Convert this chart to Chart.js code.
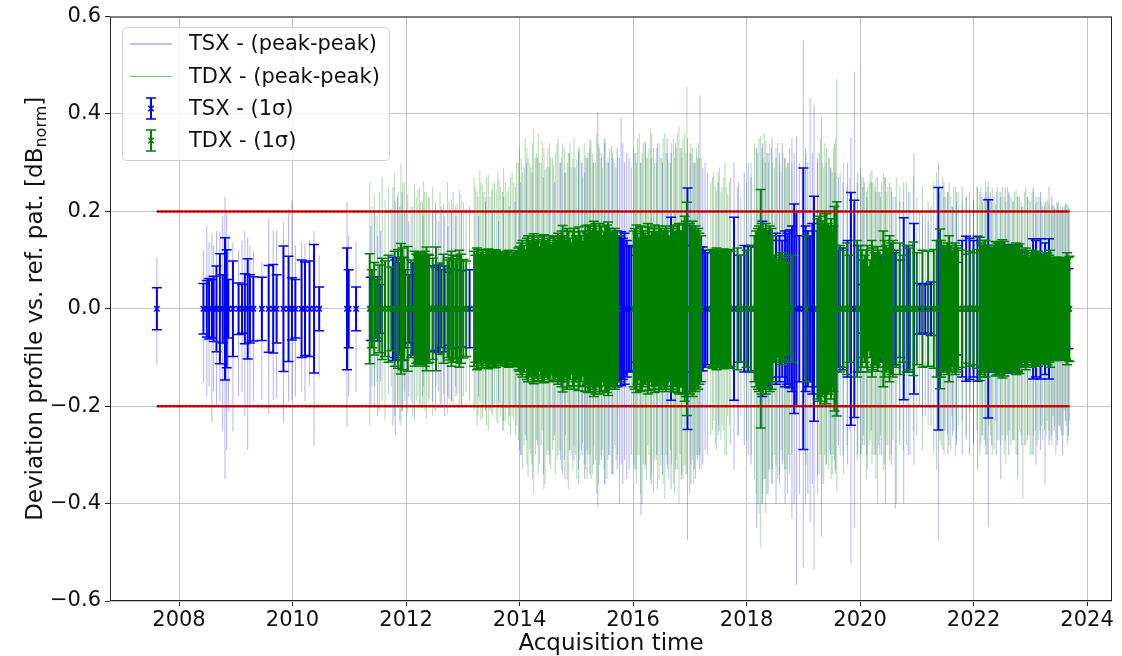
<!DOCTYPE html>
<html>
<head>
<meta charset="utf-8">
<script src="https://cdn.jsdelivr.net/npm/chart.js@4.4.1/dist/chart.umd.min.js"></script>
<style>
  html, body { margin: 0; padding: 0; background: #fff; }
  #wrap { width: 1122px; height: 656px; }
</style>
</head>
<body>
<div id="wrap"><canvas id="chart"></canvas></div>
<script>
const xTicks = [2008, 2010, 2012, 2014, 2016, 2018, 2020, 2022, 2024];
const yTicks = [-0.6, -0.4, -0.2, 0, 0.2, 0.4, 0.6];
const limits = [0.2, -0.2];
const legendLabels = ['TSX - (peak-peak)', 'TDX - (peak-peak)', 'TSX - (1σ)', 'TDX - (1σ)'];

// TerraSAR-X acquisitions: time (year), 1 sigma, peak-peak max / min
const tsxTime = [
  2007.61, 2008.43, 2008.49, 2008.53, 2008.58, 2008.61, 2008.66, 2008.72, 2008.77, 2008.81,
  2008.84, 2008.87, 2008.95, 2009.05, 2009.11, 2009.16, 2009.21, 2009.25, 2009.31, 2009.46,
  2009.58, 2009.66, 2009.72, 2009.84, 2009.93, 2009.99, 2010.05, 2010.16, 2010.22, 2010.30,
  2010.38, 2010.47, 2010.96, 2010.99, 2011.12,
  2011.38, 2011.45, 2011.50, 2011.55, 2011.77, 2011.81, 2011.85, 2011.89, 2011.93, 2011.98,
  2012.05, 2012.12, 2012.30, 2012.47, 2012.52, 2012.57, 2012.62, 2012.68, 2012.74, 2012.80,
  2012.88, 2012.98, 2013.12, 2013.28, 2013.40, 2013.52, 2013.63, 2013.72, 2013.82, 2013.92,
  2014.02, 2014.12, 2014.22, 2014.32, 2014.42, 2014.52, 2014.62, 2014.72, 2014.80, 2014.88,
  2014.96, 2015.04, 2015.10, 2015.15, 2015.19, 2015.24, 2015.30, 2015.38, 2015.44, 2015.50,
  2015.57, 2015.64, 2015.72, 2015.76, 2015.79, 2015.82, 2015.85, 2015.89, 2015.93, 2015.97,
  2016.05, 2016.14, 2016.22, 2016.32, 2016.42, 2016.52, 2016.60, 2016.67, 2016.75, 2016.85,
  2016.96, 2017.02, 2017.08, 2017.14, 2017.18, 2017.23, 2017.27, 2017.31, 2017.50, 2017.78,
  2017.86, 2017.96, 2018.03, 2018.08, 2018.18, 2018.28, 2018.33, 2018.38, 2018.45, 2018.52,
  2018.58, 2018.63, 2018.68, 2018.72, 2018.76, 2018.80, 2018.84, 2018.88, 2018.93, 2019.00,
  2019.04, 2019.08, 2019.12, 2019.16, 2019.19, 2019.25, 2019.32, 2019.40, 2019.48, 2019.56,
  2019.62, 2019.70, 2019.78, 2019.84, 2019.90, 2019.96, 2020.05, 2020.12, 2020.20, 2020.28,
  2020.35, 2020.45, 2020.55, 2020.62, 2020.70, 2020.77, 2020.85, 2020.95, 2021.05, 2021.10,
  2021.15, 2021.20, 2021.25, 2021.38, 2021.48, 2021.55, 2021.63, 2021.70, 2021.80, 2021.87,
  2021.93, 2022.00, 2022.07, 2022.15, 2022.22, 2022.26, 2022.32, 2022.40, 2022.48, 2022.56,
  2022.62, 2022.70, 2022.78, 2022.85, 2022.95, 2023.05, 2023.10, 2023.18, 2023.26, 2023.33,
  2023.38, 2023.42, 2023.47, 2023.52, 2023.57, 2023.62, 2023.67
];
const tsxSigma = [
  .043, .052, .058, .062, .060, .067, .088, .113, .070, .146,
  .121, .060, .098, .053, .050, .072, .103, .070, .066, .065,
  .089, .091, .070, .129, .108, .064, .060, .100, .096, .098,
  .132, .045, .125, .080, .045,
  .065, .060, .066, .050, .106, .100, .104, .095, .106, .080,
  .070, .095, .085, .088, .085, .090, .080, .088, .075, .082,
  .080, .078, .080, .052, .075, .080, .070, .096, .085, .080,
  .090, .095, .085, .100, .090, .095, .088, .100, .120, .110,
  .110, .127, .127, .125, .120, .150, .158, .140, .150, .145,
  .140, .158, .160, .150, .158, .145, .155, .140, .130, .127,
  .110, .120, .100, .130, .115, .125, .140, .188, .130, .150,
  .248, .130, .127, .120, .127, .127, .120, .115, .100, .188,
  .110, .130, .128, .130, .127, .180, .150, .160, .140, .155,
  .150, .140, .160, .155, .162, .170, .215, .200, .150, .289,
  .170, .160, .150, .175, .231, .160, .180, .150, .140, .130,
  .120, .125, .140, .239, .223, .130, .050, .045, .060, .048,
  .110, .120, .120, .115, .100, .187, .130, .175, .052, .050,
  .052, .050, .055, .249, .103, .100, .103, .095, .140, .149,
  .145, .140, .149, .120, .130, .224, .125, .130, .130, .128,
  .132, .130, .128, .120, .115, .144, .140, .144, .135, .144,
  .100, .082, .085, .080, .082, .078, .082
];
const tsxHigh = [
  .105, .120, .170, .137, .154, .130, .160, .158, .190, .230,
  .200, .150, .137, .120, .140, .160, .147, .130, .120, .096,
  .185, .161, .161, .178, .205, .222, .130, .137, .134, .140,
  .160, .110, .219, .150, .137,
  .170, .200, .150, .160, .250, .220, .230, .210, .240, .200,
  .180, .210, .190, .200, .220, .180, .210, .190, .170, .200,
  .190, .200, .210, .190, .220, .200, .180, .230, .210, .220,
  .260, .300, .280, .310, .270, .290, .260, .300, .280, .320,
  .290, .320, .300, .280, .310, .330, .300, .404, .320, .340,
  .300, .320, .330, .310, .394, .340, .300, .320, .310, .290,
  .320, .300, .340, .310, .330, .300, .350, .320, .340, .330,
  .350, .320, .300, .310, .438, .290, .300, .280, .260, .300,
  .260, .280, .300, .270, .330, .340, .300, .320, .350, .310,
  .320, .340, .310, .300, .330, .350, .320, .354, .300, .551,
  .330, .300, .432, .320, .419, .310, .395, .300, .290, .280,
  .270, .260, .300, .352, .486, .280, .250, .230, .260, .240,
  .240, .270, .250, .230, .220, .260, .240, .320, .200, .190,
  .200, .180, .210, .300, .230, .240, .210, .220, .250, .230,
  .240, .220, .250, .230, .240, .260, .220, .240, .230, .250,
  .240, .220, .230, .210, .230, .250, .230, .240, .220, .250,
  .230, .210, .220, .200, .210, .215, .200
];
const tsxLow = [
  -.114, -.150, -.180, -.160, -.232, -.170, -.200, -.191, -.250, -.350,
  -.290, -.210, -.252, -.180, -.170, -.220, -.290, -.200, -.191, -.188,
  -.215, -.188, -.185, -.232, -.191, -.188, -.180, -.171, -.190, -.157,
  -.280, -.140, -.242, -.180, -.171,
  -.200, -.160, -.220, -.150, -.240, -.260, -.200, -.230, -.210, -.190,
  -.180, -.220, -.200, -.190, -.210, -.170, -.200, -.220, -.180, -.190,
  -.180, -.200, -.190, -.180, -.210, -.200, -.190, -.230, -.220, -.200,
  -.300, -.270, -.320, -.280, -.340, -.300, -.260, -.310, -.350, -.290,
  -.310, -.330, -.300, -.350, -.290, -.340, -.320, -.407, -.310, -.360,
  -.300, -.340, -.330, -.400, -.320, -.360, -.310, -.350, -.330, -.300,
  -.330, -.424, -.320, -.360, -.300, -.340, -.320, -.370, -.330, -.350,
  -.475, -.360, -.330, -.310, -.300, -.320, -.290, -.300, -.260, -.330,
  -.260, -.280, -.300, -.320, -.450, -.400, -.350, -.380, -.330, -.400,
  -.360, -.320, -.400, -.380, -.340, -.430, -.400, -.567, -.380, -.531,
  -.400, -.380, -.440, -.360, -.535, -.340, -.468, -.320, -.300, -.330,
  -.280, -.300, -.320, -.523, -.450, -.300, -.280, -.300, -.250, -.300,
  -.300, -.400, -.320, -.410, -.280, -.400, -.300, -.320, -.200, -.220,
  -.220, -.200, -.240, -.475, -.250, -.300, -.260, -.280, -.300, -.270,
  -.300, -.280, -.330, -.260, -.300, -.447, -.280, -.300, -.350, -.270,
  -.300, -.270, -.350, -.280, -.260, -.300, -.320, -.290, -.360, -.280,
  -.260, -.250, -.280, -.240, -.300, -.230, -.260
];

// TanDEM-X acquisitions (later blocks: acquisitions in between the first pass)
const tdxTime = [
  2011.36, 2011.40, 2011.44, 2011.49, 2011.53, 2011.58, 2011.63, 2011.69, 2011.74, 2011.80,
  2011.86, 2011.91, 2011.97, 2012.03, 2012.09, 2012.15, 2012.21, 2012.26, 2012.31, 2012.36,
  2012.41, 2012.47, 2012.53, 2012.60, 2012.66, 2012.73, 2012.80, 2012.87, 2012.94, 2013.01,
  2013.06, 2013.20, 2013.25, 2013.30, 2013.35, 2013.40, 2013.45, 2013.51, 2013.56, 2013.62,
  2013.67, 2013.72, 2013.78, 2013.84, 2013.90, 2013.95, 2014.00, 2014.05, 2014.10, 2014.15,
  2014.20, 2014.25, 2014.30, 2014.35, 2014.40, 2014.45, 2014.50, 2014.55, 2014.60, 2014.66,
  2014.71, 2014.76, 2014.81, 2014.86, 2014.91, 2014.96, 2015.01, 2015.06, 2015.11, 2015.16,
  2015.21, 2015.26, 2015.31, 2015.36, 2015.41, 2015.46, 2015.51, 2015.56, 2015.62, 2015.68,
  2015.73, 2016.01, 2016.06, 2016.11, 2016.16, 2016.21, 2016.26, 2016.31, 2016.36, 2016.41,
  2016.46, 2016.51, 2016.56, 2016.61, 2016.66, 2016.71, 2016.76, 2016.81, 2016.86, 2016.91,
  2016.95, 2017.00, 2017.05, 2017.10, 2017.15, 2017.20, 2017.37, 2017.42, 2017.47, 2017.52,
  2017.57, 2017.62, 2017.67, 2017.72, 2017.84, 2017.90, 2018.00, 2018.08, 2018.14, 2018.20,
  2018.25, 2018.29, 2018.34, 2018.39, 2018.44, 2018.49, 2018.55, 2018.61, 2018.67, 2018.74,
  2018.80, 2019.05, 2019.25, 2019.30, 2019.36, 2019.41, 2019.46, 2019.51, 2019.55, 2019.59,
  2019.65, 2019.71, 2019.77, 2019.82, 2019.95, 2020.01, 2020.06, 2020.11, 2020.16, 2020.21,
  2020.26, 2020.31, 2020.36, 2020.41, 2020.46, 2020.52, 2020.58, 2020.64, 2020.70, 2020.76,
  2020.82, 2020.88, 2020.94, 2021.00, 2021.10, 2021.20, 2021.30, 2021.35, 2021.41, 2021.46,
  2021.51, 2021.57, 2021.62, 2021.68, 2021.73, 2021.80, 2021.87, 2021.94, 2022.00, 2022.06,
  2022.11, 2022.16, 2022.21, 2022.27, 2022.33, 2022.39, 2022.45, 2022.51, 2022.57, 2022.63,
  2022.69, 2022.75, 2022.81, 2022.87, 2022.92, 2022.98, 2023.03, 2023.09, 2023.14, 2023.20,
  2023.25, 2023.30, 2023.35, 2023.40, 2023.45, 2023.50, 2023.55, 2023.60, 2023.65, 2023.69,
  2013.22, 2013.27, 2013.32, 2013.37, 2013.42, 2013.48, 2013.53, 2013.59, 2013.64, 2013.70,
  2013.75, 2013.81, 2013.87, 2013.93, 2013.98, 2014.03, 2014.08, 2014.13, 2014.18, 2014.23,
  2014.28, 2014.33, 2014.38, 2014.43, 2014.48, 2014.53, 2014.58, 2014.63, 2014.68, 2014.74,
  2014.79, 2014.84, 2014.89, 2014.94, 2014.99, 2015.04, 2015.09, 2015.14, 2015.19, 2015.24,
  2015.29, 2015.34, 2015.39, 2015.44, 2015.49, 2015.54, 2015.59, 2015.65, 2015.70, 2016.03,
  2016.08, 2016.13, 2016.18, 2016.24, 2016.28, 2016.33, 2016.38, 2016.43, 2016.49, 2016.53,
  2016.58, 2016.63, 2016.68, 2016.73, 2016.78, 2016.83, 2016.88, 2016.93, 2017.02, 2017.07,
  2017.12, 2017.17, 2017.40, 2017.45, 2017.50, 2017.55, 2017.60, 2017.65, 2017.70, 2018.17,
  2018.22, 2018.27, 2018.31, 2018.36, 2018.41, 2018.46, 2018.52, 2018.58, 2018.64, 2018.70,
  2019.28, 2019.33, 2019.38, 2019.44, 2019.49, 2019.53, 2019.57, 2020.03, 2020.08, 2020.13,
  2020.18, 2020.23, 2020.28, 2020.33, 2020.38, 2020.43, 2020.49, 2020.55, 2021.43, 2021.48,
  2021.54, 2021.60, 2021.65, 2021.70, 2022.13, 2022.19, 2022.24, 2022.30, 2022.36, 2022.42,
  2022.48, 2022.54, 2022.60, 2022.66, 2022.72, 2022.78, 2022.84, 2022.90, 2022.95, 2023.00,
  2023.06, 2023.12, 2023.17, 2023.22, 2023.28, 2023.33, 2023.38, 2023.43, 2023.48, 2023.53,
  2023.58, 2023.63, 2023.67,
  2012.18, 2012.24, 2012.29, 2012.33, 2012.39, 2012.76, 2012.83, 2012.90, 2012.97, 2011.94
];
const tdxSigma = [
  .113, .080, .095, .060, .090, .104, .098, .110, .086, .118,
  .122, .134, .105, .128, .100, .118, .110, .112, .109, .127,
  .110, .104, .127, .094, .112, .100, .118, .103, .120, .101,
  .098, .118, .125, .112, .120, .108, .123, .115, .121, .110,
  .116, .112, .118, .108, .115, .119, .128, .140, .122, .150,
  .135, .154, .142, .128, .150, .138, .145, .132, .148, .140,
  .150, .171, .140, .160, .135, .165, .145, .158, .138, .170,
  .172, .160, .180, .155, .175, .150, .168, .178, .158, .165,
  .150, .160, .172, .145, .168, .155, .175, .150, .165, .158,
  .170, .150, .165, .160, .145, .170, .158, .175, .160, .190,
  .219, .175, .180, .170, .165, .150, .120, .118, .125, .112,
  .120, .115, .122, .118, .125, .110, .120, .130, .150, .165,
  .245, .160, .175, .150, .165, .110, .100, .115, .105, .095,
  .110, .150, .185, .200, .175, .195, .170, .160, .210, .220,
  .130, .120, .135, .110, .140, .130, .100, .120, .086, .140,
  .115, .128, .100, .160, .130, .150, .140, .120, .135, .110,
  .130, .125, .137, .115, .120, .118, .122, .140, .164, .130,
  .127, .150, .118, .135, .125, .120, .112, .118, .115, .122,
  .147, .130, .140, .125, .120, .138, .135, .142, .128, .130,
  .125, .135, .133, .110, .125, .106, .120, .112, .118, .105,
  .110, .115, .120, .100, .106, .102, .104, .100, .115, .108,
  .110, .122, .116, .110, .121, .112, .118, .120, .113, .117,
  .114, .120, .112, .116, .125, .135, .130, .145, .140, .150,
  .138, .147, .135, .152, .140, .150, .136, .145, .155, .160,
  .150, .165, .145, .158, .150, .168, .150, .160, .155, .170,
  .165, .175, .160, .170, .158, .172, .165, .155, .160, .165,
  .155, .170, .160, .150, .168, .158, .172, .155, .165, .160,
  .170, .150, .165, .158, .172, .160, .175, .180, .170, .165,
  .160, .155, .122, .115, .120, .118, .123, .116, .120, .160,
  .170, .175, .165, .160, .170, .150, .105, .100, .110, .095,
  .190, .180, .200, .175, .185, .170, .200, .120, .110, .130,
  .100, .125, .115, .120, .110, .140, .125, .135, .140, .125,
  .135, .130, .125, .130, .135, .140, .130, .125, .130, .135,
  .130, .138, .125, .130, .128, .130, .120, .118, .115, .110,
  .115, .110, .112, .108, .112, .110, .105, .104, .106, .102,
  .105, .103, .106,
  .112, .115, .110, .118, .112, .105, .110, .108, .112, .125
];
const tdxHigh = [
  .260, .210, .235, .190, .240, .270, .225, .250, .205, .280,
  .240, .298, .260, .235, .210, .255, .245, .220, .262, .240,
  .230, .250, .205, .240, .215, .260, .225, .210, .245, .220,
  .205, .270, .240, .285, .255, .230, .275, .245, .260, .280,
  .250, .290, .240, .270, .260, .300, .330, .280, .350, .310,
  .290, .370, .320, .300, .345, .285, .330, .310, .295, .340,
  .300, .340, .280, .320, .290, .350, .305, .330, .270, .315,
  .320, .345, .300, .360, .330, .290, .350, .310, .335, .300,
  .310, .330, .300, .360, .320, .345, .310, .370, .330, .300,
  .340, .310, .360, .320, .300, .350, .330, .375, .310, .360,
  .455, .320, .330, .300, .340, .310, .260, .280, .240, .290,
  .250, .300, .235, .270, .250, .230, .260, .300, .340, .320,
  .355, .310, .345, .300, .330, .290, .340, .280, .310, .300,
  .300, .320, .300, .350, .290, .330, .310, .280, .340, .473,
  .280, .300, .250, .270, .260, .290, .270, .240, .260, .285,
  .250, .270, .230, .280, .240, .260, .230, .270, .250, .220,
  .260, .240, .270, .230, .250, .220, .260, .280, .240, .270,
  .230, .260, .210, .250, .240, .220, .230, .200, .225, .250,
  .240, .220, .260, .230, .250, .215, .240, .250, .220, .235,
  .220, .245, .230, .210, .250, .225, .240, .215, .230, .220,
  .210, .225, .200, .215, .205, .220, .200, .210, .215, .205,
  .250, .230, .260, .240, .270, .230, .255, .245, .265, .240,
  .260, .250, .280, .250, .300, .310, .290, .330, .300, .340,
  .310, .360, .300, .330, .290, .340, .310, .320, .350, .310,
  .330, .300, .340, .310, .290, .330, .300, .340, .310, .350,
  .320, .300, .340, .310, .350, .300, .330, .310, .290, .320,
  .350, .300, .340, .310, .330, .360, .300, .340, .310, .350,
  .320, .300, .340, .310, .360, .330, .350, .320, .340, .300,
  .330, .310, .270, .250, .280, .240, .270, .250, .260, .330,
  .350, .330, .360, .320, .340, .300, .330, .300, .320, .290,
  .320, .300, .340, .310, .290, .330, .350, .270, .260, .250,
  .280, .260, .270, .240, .260, .270, .250, .240, .250, .260,
  .240, .230, .250, .240, .250, .230, .250, .240, .230, .250,
  .240, .230, .250, .230, .240, .230, .220, .240, .230, .220,
  .240, .220, .230, .210, .220, .215, .210, .205, .215, .210,
  .200, .215, .210,
  .230, .250, .220, .240, .230, .220, .240, .215, .235, .260
];
const tdxLow = [
  -.240, -.160, -.200, -.150, -.210, -.190, -.230, -.175, -.160, -.220,
  -.195, -.240, -.170, -.215, -.190, -.230, -.180, -.205, -.160, -.225,
  -.185, -.220, -.160, -.205, -.175, -.215, -.190, -.160, -.205, -.180,
  -.170, -.210, -.240, -.190, -.225, -.205, -.250, -.215, -.195, -.235,
  -.220, -.250, -.205, -.260, -.230, -.240, -.290, -.330, -.260, -.345,
  -.300, -.380, -.270, -.320, -.250, -.360, -.290, -.330, -.270, -.310,
  -.290, -.340, -.260, -.370, -.300, -.280, -.350, -.310, -.275, -.330,
  -.300, -.350, -.280, -.380, -.320, -.290, -.360, -.310, -.340, -.280,
  -.300, -.320, -.360, -.300, -.400, -.330, -.280, -.350, -.380, -.310,
  -.350, -.300, -.390, -.330, -.290, -.360, -.310, -.400, -.340, -.320,
  -.340, -.380, -.310, -.350, -.300, -.330, -.260, -.230, -.290, -.250,
  -.240, -.300, -.220, -.280, -.260, -.220, -.270, -.300, -.350, -.400,
  -.490, -.380, -.420, -.330, -.360, -.300, -.350, -.290, -.330, -.300,
  -.300, -.320, -.380, -.300, -.360, -.320, -.290, -.340, -.310, -.375,
  -.300, -.340, -.280, -.250, -.310, -.300, -.260, -.350, -.280, -.320,
  -.300, -.400, -.260, -.330, -.280, -.310, -.270, -.400, -.250, -.290,
  -.280, -.300, -.250, -.260, -.290, -.240, -.300, -.330, -.270, -.290,
  -.250, -.280, -.220, -.300, -.240, -.230, -.260, -.210, -.270, -.250,
  -.300, -.260, -.280, -.240, -.300, -.230, -.270, -.260, -.320, -.250,
  -.270, -.300, -.250, -.390, -.280, -.260, -.300, -.250, -.270, -.240,
  -.250, -.230, -.270, -.220, -.300, -.240, -.260, -.210, -.280, -.230,
  -.200, -.220, -.230, -.200, -.240, -.210, -.220, -.230, -.200, -.250,
  -.230, -.240, -.220, -.260, -.270, -.300, -.280, -.320, -.290, -.350,
  -.300, -.340, -.280, -.370, -.300, -.320, -.290, -.340, -.300, -.330,
  -.310, -.350, -.290, -.330, -.300, -.360, -.290, -.320, -.350, -.300,
  -.340, -.310, -.360, -.300, -.330, -.350, -.300, -.340, -.310, -.330,
  -.300, -.380, -.320, -.350, -.300, -.340, -.310, -.370, -.320, -.360,
  -.300, -.350, -.320, -.380, -.330, -.300, -.350, -.340, -.320, -.360,
  -.300, -.330, -.250, -.280, -.240, -.270, -.250, -.300, -.240, -.380,
  -.420, -.400, -.350, -.380, -.330, -.360, -.320, -.340, -.310, -.330,
  -.340, -.360, -.300, -.330, -.350, -.300, -.340, -.300, -.280, -.330,
  -.270, -.300, -.350, -.280, -.300, -.320, -.280, -.300, -.280, -.300,
  -.260, -.290, -.250, -.270, -.280, -.270, -.300, -.260, -.290, -.270,
  -.280, -.300, -.260, -.280, -.270, -.300, -.260, -.280, -.270, -.300,
  -.260, -.280, -.250, -.270, -.260, -.250, -.280, -.240, -.270, -.250,
  -.260, -.240, -.270,
  -.190, -.200, -.180, -.210, -.195, -.185, -.200, -.175, -.195, -.210
];

const BLUE = '#0000ff', GREEN = '#008000';
const FONT = '"DejaVu Sans", sans-serif';

// vertical segments separated by gaps
function vLines(time, lo, hi) {
  const pts = [];
  time.forEach((t, i) => pts.push({x: t, y: lo[i]}, {x: t, y: hi[i]}, {x: t, y: null}));
  return pts;
}
function caps(time, sig) {
  const pts = [];
  time.forEach((t, i) => pts.push({x: t, y: sig[i]}, {x: t, y: -sig[i]}));
  return pts;
}
const zeros = time => time.map(t => ({x: t, y: 0}));

const tStart = Math.min(...tsxTime, ...tdxTime), tEnd = Math.max(...tsxTime, ...tdxTime);
const limitPts = [];
limits.forEach(v => limitPts.push({x: tStart, y: v}, {x: tEnd, y: v}, {x: tEnd, y: null}));

const lineDs = (data, color, width, order, dash) => ({
  type: 'line', data, borderColor: color, borderWidth: width, borderDash: dash || [],
  pointRadius: 0, pointHoverRadius: 0, fill: false, tension: 0, spanGaps: false, order
});
const markDs = (data, color, style, radius, width, order) => ({
  type: 'scatter', data, pointStyle: style, pointRadius: radius, pointHoverRadius: radius,
  borderColor: color, backgroundColor: color, pointBorderWidth: width, borderWidth: width, order
});

const datasets = [
  lineDs(limitPts, '#000000', 1, 0, [2, 2]),
  lineDs(limitPts, '#ff0000', 2.5, 1),
  markDs(zeros(tdxTime), GREEN, 'crossRot', 3.8, 1.5, 2),
  markDs(caps(tdxTime, tdxSigma), GREEN, 'line', 5, 1.5, 3),
  lineDs(vLines(tdxTime, tdxSigma.map(s => -s), tdxSigma), GREEN, 2, 4),
  markDs(zeros(tsxTime), BLUE, 'crossRot', 3.8, 1.5, 5),
  markDs(caps(tsxTime, tsxSigma), BLUE, 'line', 5, 1.5, 6),
  lineDs(vLines(tsxTime, tsxSigma.map(s => -s), tsxSigma), BLUE, 2, 7),
  lineDs(vLines(tdxTime, tdxLow, tdxHigh), 'rgba(0,128,0,0.3)', 1, 8),
  lineDs(vLines(tsxTime, tsxLow, tsxHigh), 'rgba(0,0,255,0.3)', 1, 9)
];

function drawErrGlyph(ctx, x, y, color) {
  ctx.strokeStyle = color;
  ctx.lineWidth = 2;
  ctx.beginPath(); ctx.moveTo(x, y - 10.5); ctx.lineTo(x, y + 10.5); ctx.stroke();
  ctx.lineWidth = 1.5;
  ctx.beginPath();
  ctx.moveTo(x - 5, y - 10.5); ctx.lineTo(x + 5, y - 10.5);
  ctx.moveTo(x - 5, y + 10.5); ctx.lineTo(x + 5, y + 10.5);
  ctx.moveTo(x - 2.7, y - 2.7); ctx.lineTo(x + 2.7, y + 2.7);
  ctx.moveTo(x - 2.7, y + 2.7); ctx.lineTo(x + 2.7, y - 2.7);
  ctx.stroke();
}

const decor = {
  id: 'decor',
  afterDraw(chart) {
    const ctx = chart.ctx, a = chart.chartArea;
    ctx.save();
    // axes frame
    ctx.strokeStyle = '#222';
    ctx.lineWidth = 1;
    ctx.strokeRect(a.left + 0.5, a.top + 0.5, a.right - a.left - 1, a.bottom - a.top - 1);

    // legend
    const lx = 122.5, ly = 27.5, lw = 267, lh = 133;
    ctx.beginPath();
    ctx.roundRect(lx, ly, lw, lh, 4);
    ctx.fillStyle = 'rgba(255,255,255,0.8)';
    ctx.fill();
    ctx.strokeStyle = '#d0d0d0';
    ctx.stroke();
    const rows = [44, 76.5, 108.5, 140.5];
    ctx.lineWidth = 1;
    ctx.strokeStyle = 'rgba(0,0,255,0.5)';
    ctx.beginPath(); ctx.moveTo(130, rows[0]); ctx.lineTo(172, rows[0]); ctx.stroke();
    ctx.strokeStyle = 'rgba(0,128,0,0.5)';
    ctx.beginPath(); ctx.moveTo(130, rows[1]); ctx.lineTo(172, rows[1]); ctx.stroke();
    drawErrGlyph(ctx, 151, rows[2], BLUE);
    drawErrGlyph(ctx, 151, rows[3], GREEN);
    ctx.fillStyle = '#111';
    ctx.font = '21px ' + FONT;
    ctx.textAlign = 'left';
    ctx.textBaseline = 'middle';
    legendLabels.forEach((t, i) => ctx.fillText(t, 189, rows[i] + 1));

    // x axis title
    ctx.font = '23px ' + FONT;
    ctx.textAlign = 'center';
    ctx.fillText('Acquisition time', (a.left + a.right) / 2, 644);

    // y axis title with subscript
    ctx.translate(36, (a.top + a.bottom) / 2);
    ctx.rotate(-Math.PI / 2);
    const main = 'Deviation profile vs. ref. pat. [dB', sub = 'norm', end = ']';
    ctx.font = '23px ' + FONT;
    const w1 = ctx.measureText(main).width, w3 = ctx.measureText(end).width;
    ctx.font = '16px ' + FONT;
    const w2 = ctx.measureText(sub).width;
    let x = -(w1 + w2 + w3) / 2;
    ctx.textAlign = 'left';
    ctx.font = '23px ' + FONT;
    ctx.fillText(main, x, 0);
    ctx.font = '16px ' + FONT;
    ctx.fillText(sub, x + w1, 6);
    ctx.font = '23px ' + FONT;
    ctx.fillText(end, x + w1 + w2, 0);
    ctx.restore();
  }
};

new Chart(document.getElementById('chart'), {
  type: 'line',
  data: { datasets },
  options: {
    responsive: true,
    maintainAspectRatio: false,
    animation: false,
    events: [],
    layout: { padding: { top: 16, right: 10, left: 0, bottom: 0 } },
    plugins: { legend: { display: false }, tooltip: { enabled: false } },
    scales: {
      x: {
        type: 'linear', min: 2006.784, max: 2024.44,
        afterBuildTicks: s => { s.ticks = xTicks.map(v => ({value: v})); },
        afterFit: s => { s.height = 55; },
        grid: { color: '#c4c4c4', lineWidth: 1, tickLength: 5, tickColor: '#222' },
        border: { display: false },
        ticks: {
          font: { family: FONT, size: 21 }, color: '#111', padding: 2, maxRotation: 0, autoSkip: false,
          callback: v => String(v)
        }
      },
      y: {
        type: 'linear', min: -0.6, max: 0.6,
        afterBuildTicks: s => { s.ticks = yTicks.map(v => ({value: v})); },
        afterFit: s => { s.width = 110; },
        grid: { color: '#c4c4c4', lineWidth: 1, tickLength: 5, tickColor: '#222' },
        border: { display: false },
        ticks: {
          font: { family: FONT, size: 21 }, color: '#111', padding: 4,
          callback: v => v.toFixed(1).replace('-', '\u2212')
        }
      }
    }
  },
  plugins: [decor]
});
</script>
</body>
</html>
